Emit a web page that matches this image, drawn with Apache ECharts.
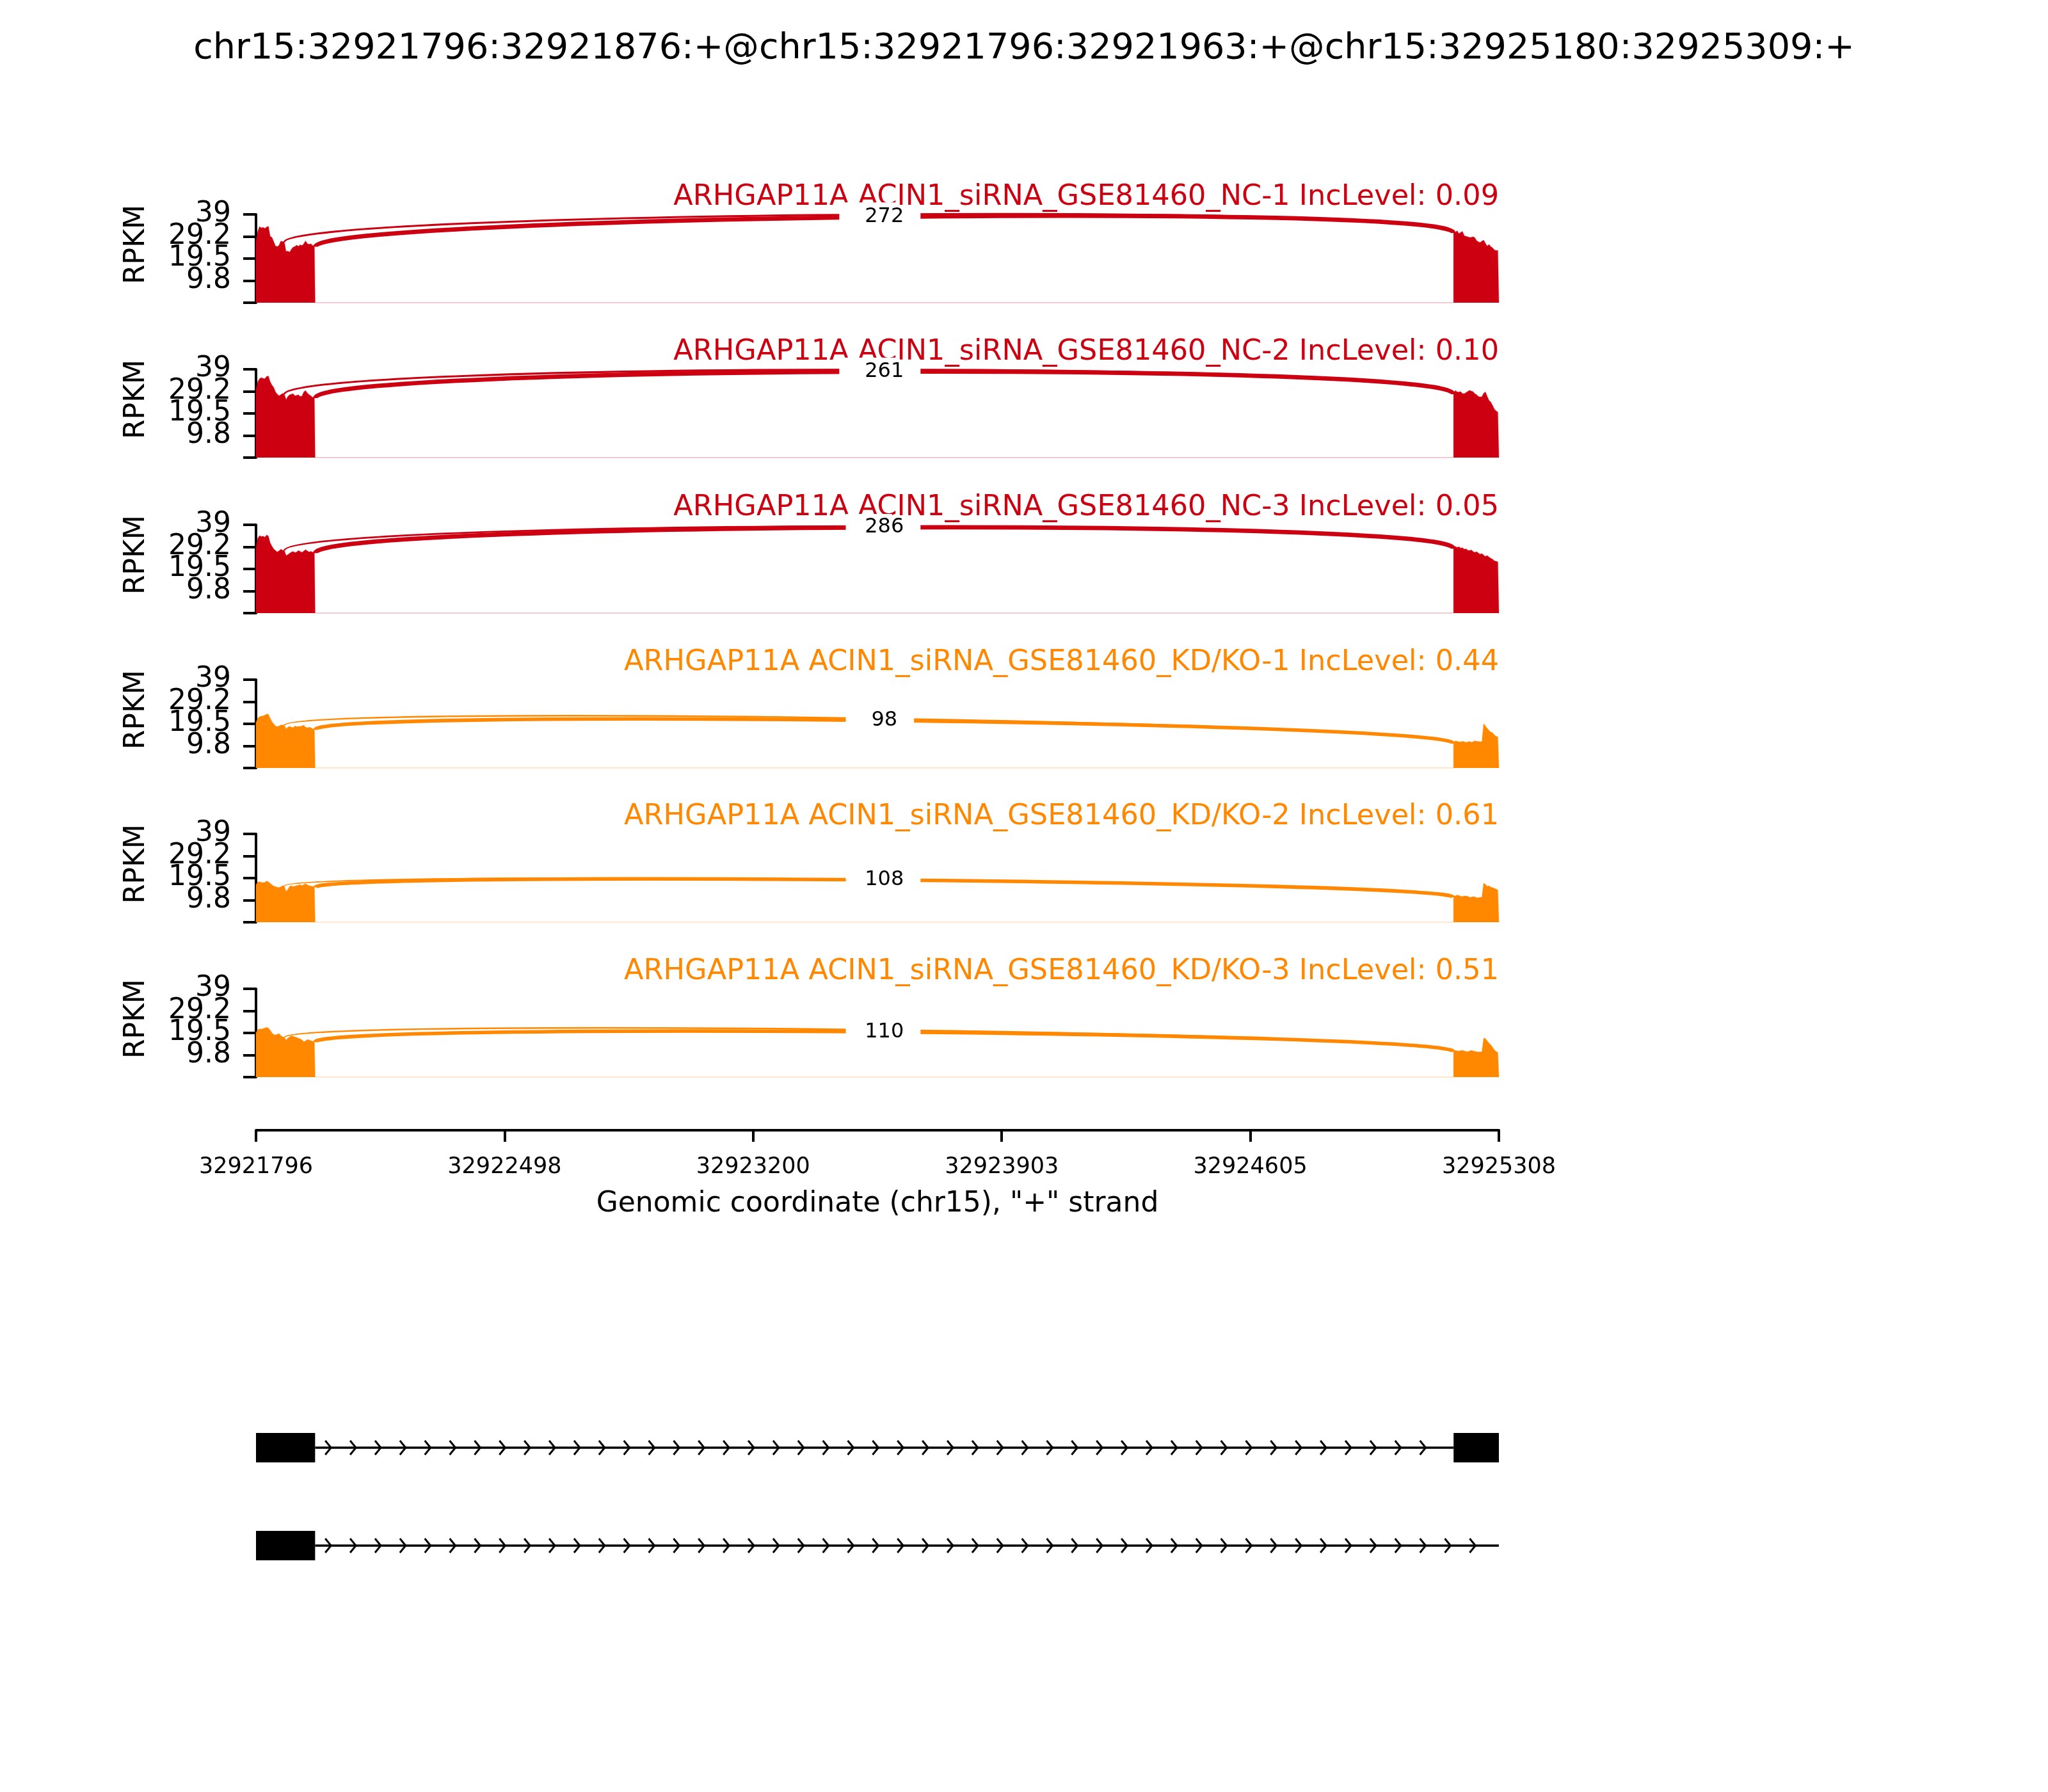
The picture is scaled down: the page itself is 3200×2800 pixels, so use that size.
<!DOCTYPE html>
<html>
<head>
<meta charset="utf-8">
<script src="https://cdn.jsdelivr.net/npm/echarts@6/dist/echarts.min.js"></script>
<style>
html, body { margin: 0; padding: 0; background: #ffffff; }
#c { width: 3200px; height: 2800px; }
</style>
</head>
<body>
<div id="c"></div>
<script>
// ---------------- data ----------------
const chartTitle = 'chr15:32921796:32921876:+@chr15:32921796:32921963:+@chr15:32925180:32925309:+';
const geneName = 'ARHGAP11A';
const sampleNames = [
  'ACIN1_siRNA_GSE81460_NC-1', 'ACIN1_siRNA_GSE81460_NC-2', 'ACIN1_siRNA_GSE81460_NC-3',
  'ACIN1_siRNA_GSE81460_KD/KO-1', 'ACIN1_siRNA_GSE81460_KD/KO-2', 'ACIN1_siRNA_GSE81460_KD/KO-3'
];
const incLevels = ['0.09', '0.10', '0.05', '0.44', '0.61', '0.51'];
const sampleGroup = [0, 0, 0, 1, 1, 1];
const groupColors = ['#CC0011', '#FF8800'];

const xMin = 32921796;
const xMax = 32925308;
const xTickValues = [32921796, 32922498.4, 32923200.8, 32923903.2, 32924605.6, 32925308];
const xTickLabels = ['32921796', '32922498', '32923200', '32923903', '32924605', '32925308'];
const yTickValues = [0, 9.75, 19.5, 29.25, 39];
const yTickLabels = ['', '9.8', '19.5', '29.2', '39'];
const xAxisName = 'Genomic coordinate (chr15), "+" strand';
const yAxisName = 'RPKM';

const exon1Start = 32921796;
const exon1ShortEnd = 32921876;
const exon1End = 32921963;
const exon3Start = 32925180;
const exon3End = 32925308;
const covStep = 5; // bp between coverage samples

// coverage (RPKM) over the upstream exon, every 5 bp from 32921796 (last = 32921963)
const covExon1 = [
  [27.0, 31.5, 33.6, 33.0, 33.3, 32.8, 33.4, 33.8, 29.3, 28.8, 27.0, 25.0, 24.8, 25.3, 27.2, 27.0, 26.8, 22.6, 22.8, 22.3, 23.6, 24.5, 24.8, 25.4, 24.9, 25.6, 25.2, 26.0, 27.3, 26.1, 25.8, 26.0, 25.3, 24.7, 24.5],
  [30.0, 33.5, 34.8, 35.3, 35.0, 34.8, 35.8, 36.0, 33.5, 32.0, 31.0, 29.0, 28.0, 27.3, 27.8, 28.3, 28.0, 25.6, 27.0, 27.7, 28.0, 28.2, 27.3, 27.5, 27.7, 27.0, 27.2, 29.0, 29.6, 28.5, 27.8, 27.3, 26.6, 26.3, 26.0],
  [29.0, 33.0, 34.2, 33.8, 34.0, 33.5, 34.5, 34.0, 31.0, 29.5, 28.3, 27.6, 27.0, 27.5, 28.2, 27.8, 27.6, 25.4, 25.8, 26.4, 26.9, 27.2, 26.7, 27.0, 27.6, 27.2, 26.8, 27.4, 28.0, 27.5, 27.0, 27.3, 26.9, 26.5, 26.2],
  [20.0, 22.0, 22.6, 22.9, 23.0, 23.3, 23.8, 23.7, 22.0, 20.5, 19.4, 18.6, 18.2, 18.6, 18.9, 19.1, 18.8, 17.3, 18.0, 18.4, 18.0, 17.8, 18.6, 18.2, 18.4, 18.3, 18.6, 18.9, 18.0, 17.7, 18.0, 17.8, 17.3, 16.9, 16.8],
  [16.5, 17.7, 17.9, 17.6, 17.5, 17.6, 18.2, 17.8, 17.2, 16.5, 16.0, 15.7, 15.5, 15.3, 15.6, 16.2, 16.0, 13.6, 14.5, 15.8, 16.1, 15.7, 16.0, 16.2, 16.4, 16.6, 16.2, 16.6, 17.0, 16.5, 16.2, 16.0, 15.8, 15.4, 15.3],
  [19.5, 21.0, 21.3, 21.2, 21.4, 21.7, 22.0, 21.6, 20.7, 19.5, 18.8, 18.6, 18.9, 19.2, 18.4, 17.8, 17.5, 16.4, 17.2, 17.8, 18.3, 18.0, 17.7, 17.5, 17.2, 16.9, 16.4, 15.6, 16.0, 16.6, 16.4, 16.1, 15.8, 15.5, 15.4]
];
// coverage over the downstream exon, every 5 bp from 32925180 (last = 32925308)
const covExon3 = [
  [30.8, 31.0, 31.8, 30.5, 31.0, 31.5, 29.6, 29.3, 29.1, 28.8, 28.9, 29.1, 28.7, 27.4, 26.9, 26.6, 27.2, 27.6, 26.2, 25.0, 25.7, 24.8, 24.2, 23.4, 23.0, 23.1, 22.9],
  [28.0, 29.7, 29.0, 29.0, 29.1, 28.3, 28.2, 28.7, 29.2, 29.7, 29.4, 29.1, 28.2, 27.8, 27.0, 26.8, 26.9, 28.4, 29.0, 27.0, 25.3, 24.5, 23.1, 21.4, 20.6, 20.1, 19.8],
  [28.5, 29.5, 29.0, 29.3, 28.7, 28.9, 28.2, 28.4, 27.8, 27.6, 27.9, 27.2, 26.8, 27.1, 26.5, 26.0, 26.3, 25.6, 25.0, 25.4, 24.7, 24.2, 23.8, 23.1, 22.9, 22.6, 22.5],
  [10.8, 12.0, 11.8, 11.6, 11.5, 11.8, 11.6, 11.3, 11.5, 11.7, 11.4, 11.6, 12.0, 11.8, 11.7, 11.6, 11.6, 19.6, 18.5, 17.5, 16.6, 15.8, 15.6, 14.6, 14.0, 13.7, 13.5],
  [11.0, 11.6, 12.0, 11.8, 11.5, 11.4, 11.6, 11.6, 11.5, 11.0, 11.1, 11.3, 11.2, 10.9, 10.8, 11.0, 11.0, 17.3, 16.7, 15.9, 16.1, 15.5, 15.3, 15.0, 14.6, 14.3, 14.2],
  [11.2, 11.8, 11.6, 11.5, 11.7, 11.8, 11.6, 11.3, 11.2, 11.5, 11.8, 11.6, 11.4, 11.2, 11.1, 11.2, 11.1, 17.2, 17.0, 16.0, 15.0, 14.3, 13.2, 12.0, 11.4, 10.8, 10.5]
];
// junction read counts
const shortJunctionCounts = [12, 13, 8, 6, 4, 6];       // 32921876 -> 32925180
const longJunctionCounts = [272, 261, 286, 98, 108, 110]; // 32921963 -> 32925180

// gene model
const track1Exons = [[32921796, 32921963], [32925180, 32925308]];
const track1Intron = [32921963, 32925180];
const track2Exons = [[32921796, 32921963]];
const track2Intron = [32921963, 32925308];
const chevronFirst = 32922008;
const chevronSpacing = 70.3;

// ---------------- layout ----------------
const L = 400, W = 1942, PH = 138;
const panelTops = [335, 577, 820, 1062, 1303, 1545];
const FONT = '"DejaVu Sans", "Liberation Sans", sans-serif';

function covData(e1, e3) {
  const d = [[exon1Start, 0]];
  e1.forEach((v, i) => d.push([Math.min(exon1Start + i * covStep, exon1End), v]));
  d.push([exon1End, 0]);
  d.push([exon3Start, 0]);
  e3.forEach((v, i) => d.push([Math.min(exon3Start + i * covStep, exon3End), v]));
  d.push([exon3End, 0]);
  return d;
}
function covAt(arr, start, pos) {
  return arr[Math.min(arr.length - 1, Math.round((pos - start) / covStep))];
}
function nearestLabel(values, labels, v) {
  let best = 0;
  values.forEach((t, k) => { if (Math.abs(t - v) < Math.abs(values[best] - v)) best = k; });
  return labels[best];
}

const grids = [], xAxes = [], yAxes = [], series = [], graphics = [];

graphics.push({
  type: 'text', x: 1600, y: 77,
  style: { text: chartTitle, font: '55.6px ' + FONT, fill: '#000', textAlign: 'center', textVerticalAlign: 'middle', align: 'center', verticalAlign: 'middle' }
});

// labels split over two overlaid axes so that crowded tick labels are all drawn
const labelSetA = yTickValues.filter((v, k) => k % 2 === 0);   // 0, 19.5, 39
const labelSetB = yTickValues.filter((v, k) => k % 2 === 1);   // 9.75, 29.25

function yLabelAxis(i, values, withLine) {
  return {
    gridIndex: i, type: 'value', position: 'left', offset: 0,
    min: yTickValues[0], max: yTickValues[yTickValues.length - 1],
    axisLine: { show: withLine, lineStyle: { color: '#000', width: 4 } },
    axisTick: { show: withLine, length: 20, lineStyle: { color: '#000', width: 4 }, customValues: yTickValues },
    axisLabel: {
      show: true, margin: 39, fontSize: 44, color: '#000', fontFamily: FONT,
      padding: [8, 0, 0, 0],
      customValues: values,
      showMinLabel: true, showMaxLabel: true, hideOverlap: false,
      formatter: v => nearestLabel(yTickValues, yTickLabels, v)
    },
    splitLine: { show: false }
  };
}

for (let i = 0; i < 6; i++) {
  const color = groupColors[sampleGroup[i]];
  const top = panelTops[i];
  grids.push({ left: L, width: W, top: top, height: PH });
  xAxes.push({ gridIndex: i, type: 'value', min: xMin, max: xMax, show: false });
  const yIdx = yAxes.length;
  yAxes.push(yLabelAxis(i, labelSetA, true));
  yAxes.push(yLabelAxis(i, labelSetB, false));

  const e1 = covExon1[i], e3 = covExon3[i];
  series.push({
    type: 'line', xAxisIndex: i, yAxisIndex: yIdx, data: covData(e1, e3),
    showSymbol: false, symbol: 'none', animation: false, z: 2,
    lineStyle: { color: color, width: 1.5, opacity: 0.3 },
    areaStyle: { color: color, opacity: 1 }
  });

  const maxCov = Math.max(...e1, ...e3);
  const h = 0.4 * maxCov;
  const rd = covAt(e3, exon3Start, exon3Start);
  const jxns = [
    [exon1ShortEnd, exon3Start, covAt(e1, exon1Start, exon1ShortEnd), rd, h, shortJunctionCounts[i]],
    [exon1End, exon3Start, covAt(e1, exon1Start, exon1End), rd, h, longJunctionCounts[i]]
  ];
  series.push({
    type: 'custom', xAxisIndex: i, yAxisIndex: yIdx, data: jxns, z: 3, animation: false, clip: false,
    encode: { x: [0, 1], y: [2, 3] },
    renderItem: (params, api) => {
      const from = api.value(0), to = api.value(1), ld = api.value(2), r = api.value(3), hh = api.value(4), n = api.value(5);
      const p0 = api.coord([from, ld]), p1 = api.coord([from, ld + hh]);
      const p2 = api.coord([to, r + hh]), p3 = api.coord([to, r]);
      return {
        type: 'bezierCurve',
        shape: { x1: p0[0], y1: p0[1], cpx1: p1[0], cpy1: p1[1], cpx2: p2[0], cpy2: p2[1], x2: p3[0], y2: p3[1] },
        style: { stroke: color, lineWidth: Math.log10(n + 1) * 200 / 72, fill: 'none' }
      };
    }
  });
  series.push({
    type: 'custom', xAxisIndex: i, yAxisIndex: yIdx, data: jxns, z: 4, animation: false, clip: false,
    encode: { x: [0, 1], y: [2, 3] },
    renderItem: (params, api) => {
      const from = api.value(0), to = api.value(1), ld = api.value(2), r = api.value(3), hh = api.value(4), n = api.value(5);
      const m = api.coord([(from + to) / 2, (ld + r) / 2 + 0.75 * hh]);
      return {
        type: 'text', x: m[0], y: m[1],
        style: {
          text: String(n), font: '32px ' + FONT, fill: '#000',
          textAlign: 'center', textVerticalAlign: 'middle', align: 'center', verticalAlign: 'middle',
          backgroundColor: '#ffffff', padding: [3, 26]
        }
      };
    }
  });

  graphics.push({
    type: 'text', x: L + W, y: top - 27,
    style: {
      text: geneName + ' ' + sampleNames[i] + ' IncLevel: ' + incLevels[i],
      font: '44.6px ' + FONT, fill: color,
      textAlign: 'right', textVerticalAlign: 'middle', align: 'right', verticalAlign: 'middle'
    }
  });
  graphics.push({
    type: 'text', x: 214, y: top + PH / 2 - 22, rotation: Math.PI / 2,
    style: {
      text: yAxisName, font: '44px ' + FONT, fill: '#000',
      textAlign: 'center', textVerticalAlign: 'middle', align: 'center', verticalAlign: 'middle'
    }
  });
}

// genomic coordinate axis
grids.push({ left: L, width: W, top: 1700, height: 66 });
xAxes.push({
  gridIndex: 6, type: 'value', min: xMin, max: xMax, position: 'bottom',
  axisLine: { show: true, lineStyle: { color: '#000', width: 4 } },
  axisTick: { show: true, inside: false, length: 18, lineStyle: { color: '#000', width: 4 }, customValues: xTickValues },
  axisLabel: {
    show: true, customValues: xTickValues, fontSize: 35, color: '#000', fontFamily: FONT, margin: 40,
    showMinLabel: true, showMaxLabel: true, hideOverlap: false,
    formatter: v => nearestLabel(xTickValues, xTickLabels, v)
  },
  splitLine: { show: false },
  name: xAxisName, nameLocation: 'middle', nameGap: 94,
  nameTextStyle: { fontSize: 44, color: '#000', fontFamily: FONT }
});
yAxes.push({ gridIndex: 6, type: 'value', min: 0, max: 1, show: false });

// gene model
grids.push({ left: L, width: W, top: 2109, height: 459 });
xAxes.push({ gridIndex: 7, type: 'value', min: xMin, max: xMax, show: false });
const geneY = yAxes.length;
yAxes.push({ gridIndex: 7, type: 'value', min: 0, max: 3, show: false });

const tracks = [
  { y: 2, exons: track1Exons, intron: track1Intron, chevEnd: track1Intron[1] - 12 },
  { y: 1, exons: track2Exons, intron: track2Intron, chevEnd: track2Intron[1] - 25 }
];
const intronData = tracks.map(t => [t.intron[0], t.intron[1], t.y]);
const exonData = [];
tracks.forEach(t => t.exons.forEach(e => exonData.push([e[0], e[1], t.y])));
const chevData = [];
tracks.forEach(t => {
  for (let p = chevronFirst; p <= t.chevEnd; p += chevronSpacing) chevData.push([p, t.y]);
});

series.push({
  type: 'custom', xAxisIndex: 7, yAxisIndex: geneY, data: intronData, animation: false, z: 2,
  encode: { x: [0, 1], y: 2 },
  renderItem: (params, api) => {
    const a = api.coord([api.value(0), api.value(2)]), b = api.coord([api.value(1), api.value(2)]);
    return { type: 'line', shape: { x1: a[0], y1: a[1], x2: b[0], y2: b[1] }, style: { stroke: '#000', lineWidth: 3.5 } };
  }
});
series.push({
  type: 'custom', xAxisIndex: 7, yAxisIndex: geneY, data: chevData, animation: false, z: 3,
  encode: { x: 0, y: 1 },
  renderItem: (params, api) => {
    const c = api.coord([api.value(0), api.value(1)]);
    return {
      type: 'polyline',
      shape: { points: [[c[0] - 9, c[1] - 11], [c[0], c[1]], [c[0] - 9, c[1] + 11]] },
      style: { stroke: '#000', lineWidth: 3, fill: 'none' }
    };
  }
});
series.push({
  type: 'custom', xAxisIndex: 7, yAxisIndex: geneY, data: exonData, animation: false, z: 4,
  encode: { x: [0, 1], y: 2 },
  renderItem: (params, api) => {
    const a = api.coord([api.value(0), api.value(2)]), b = api.coord([api.value(1), api.value(2)]);
    const hgt = api.size([0, 0.3])[1];
    return { type: 'rect', shape: { x: a[0], y: a[1] - hgt / 2, width: b[0] - a[0], height: hgt }, style: { fill: '#000' } };
  }
});

const chart = echarts.init(document.getElementById('c'));
chart.setOption({
  backgroundColor: '#ffffff',
  animation: false,
  grid: grids,
  xAxis: xAxes,
  yAxis: yAxes,
  series: series,
  graphic: { elements: graphics }
});
</script>
</body>
</html>
